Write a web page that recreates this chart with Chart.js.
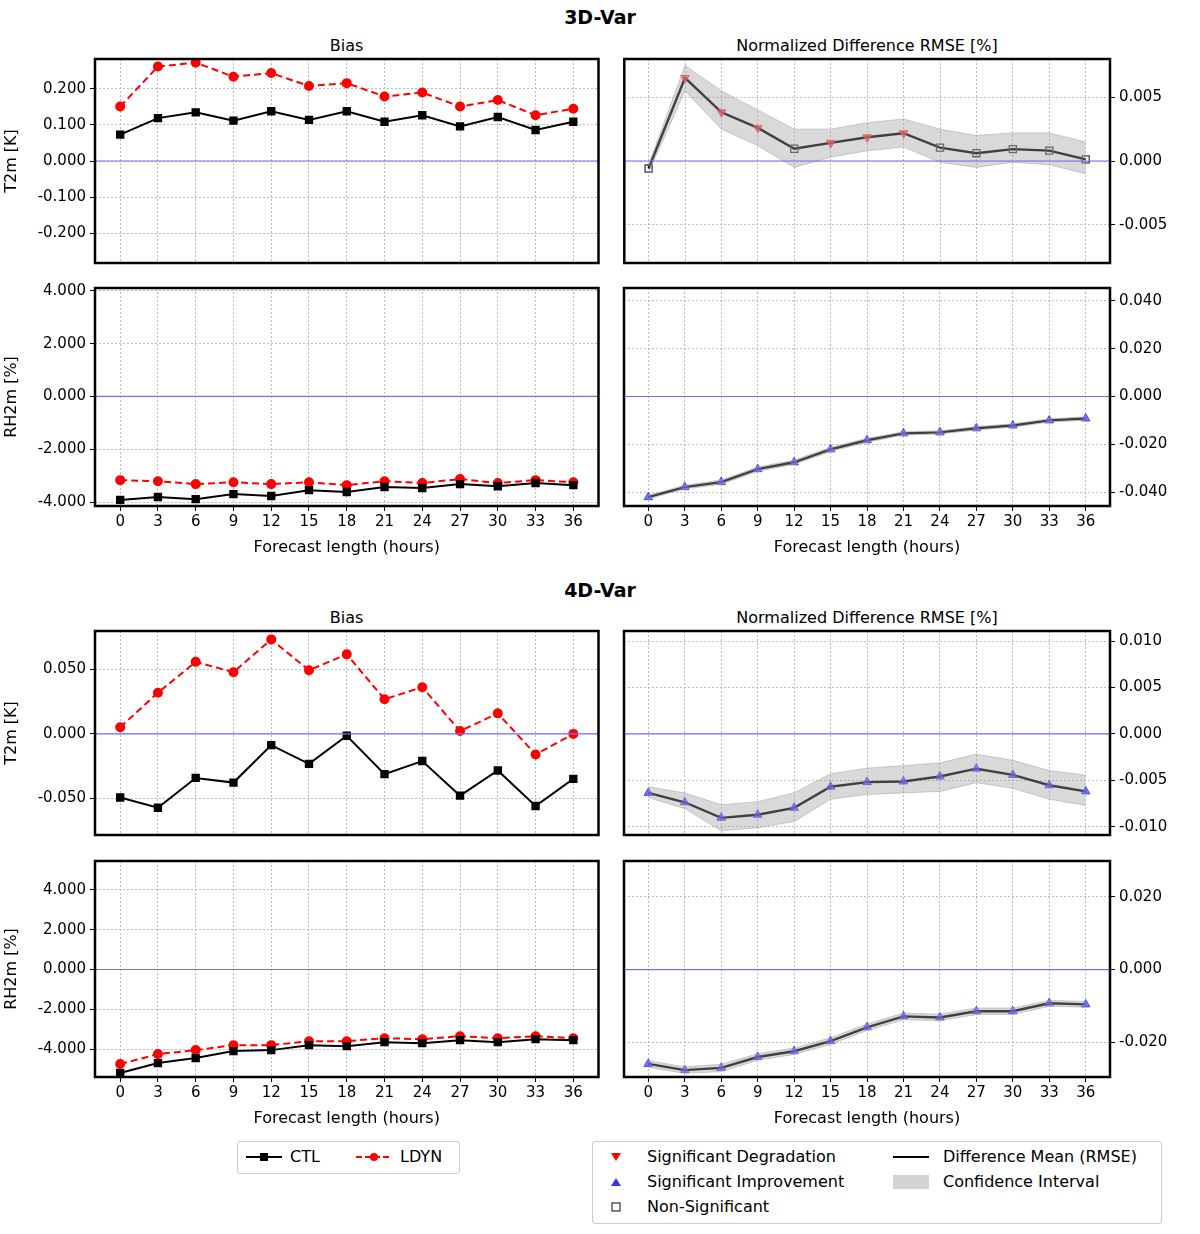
<!DOCTYPE html>
<html>
<head>
<meta charset="UTF-8">
<title>3D-Var / 4D-Var verification</title>
<script src="https://cdn.jsdelivr.net/npm/chart.js"></script>
<style>
  body { margin: 0; background: #fff; font-family: "DejaVu Sans", sans-serif; }
  #page { position: relative; width: 1200px; height: 1234px; }
  .c { position: absolute; }
  .t { position: absolute; font-size: 16px; color: #000; text-align: center; }
  .big { font-weight: bold; font-size: 19px; }
  .legend { position: absolute; border: 1px solid #ccc; border-radius: 3px; background: #fff; font-size: 16px; }
  .li { position: absolute; white-space: nowrap; }
</style>
</head>
<body>
<div id="page">
  <div class="t big" style="left:0;width:1200px;top:6px">3D-Var</div>
  <div class="t" style="left:95px;width:503px;top:36px">Bias</div>
  <div class="t" style="left:624px;width:486px;top:36px">Normalized Difference RMSE [%]</div>
  <div class="t big" style="left:0;width:1200px;top:579px">4D-Var</div>
  <div class="t" style="left:95px;width:503px;top:608px">Bias</div>
  <div class="t" style="left:624px;width:486px;top:608px">Normalized Difference RMSE [%]</div>

  <div class="c" style="left:0;top:46px;width:605px;height:230px"><canvas id="p1"></canvas></div>
  <div class="c" style="left:618px;top:46px;width:582px;height:230px"><canvas id="p2"></canvas></div>
  <div class="c" style="left:0;top:275px;width:605px;height:282px"><canvas id="p3"></canvas></div>
  <div class="c" style="left:618px;top:275px;width:582px;height:282px"><canvas id="p4"></canvas></div>
  <div class="c" style="left:0;top:618px;width:605px;height:230px"><canvas id="p5"></canvas></div>
  <div class="c" style="left:618px;top:618px;width:582px;height:230px"><canvas id="p6"></canvas></div>
  <div class="c" style="left:0;top:848px;width:605px;height:280px"><canvas id="p7"></canvas></div>
  <div class="c" style="left:618px;top:848px;width:582px;height:280px"><canvas id="p8"></canvas></div>

  <div class="legend" style="left:237px;top:1141px;width:221px;height:31px">
    <svg class="li" style="left:8px;top:8px" width="36" height="14"><line x1="0" y1="7" x2="36" y2="7" stroke="#000" stroke-width="2"/><rect x="14" y="3" width="8" height="8" fill="#000"/></svg>
    <span class="li" style="left:52px;top:5px">CTL</span>
    <svg class="li" style="left:118px;top:8px" width="36" height="14"><line x1="0" y1="7" x2="36" y2="7" stroke="red" stroke-width="2" stroke-dasharray="6,3"/><circle cx="18" cy="7" r="4" fill="red"/></svg>
    <span class="li" style="left:162px;top:5px">LDYN</span>
  </div>
  <div class="legend" style="left:592px;top:1141px;width:568px;height:81px">
    <svg class="li" style="left:16px;top:8px" width="14" height="14"><polygon points="2,3 12,3 7,11" fill="red"/></svg>
    <span class="li" style="left:54px;top:5px">Significant Degradation</span>
    <svg class="li" style="left:16px;top:33px" width="14" height="14"><polygon points="2,11 12,11 7,3" fill="#3333ff"/></svg>
    <span class="li" style="left:54px;top:30px">Significant Improvement</span>
    <svg class="li" style="left:16px;top:58px" width="14" height="14"><rect x="3" y="3" width="8" height="8" fill="none" stroke="#333" stroke-width="1.2"/></svg>
    <span class="li" style="left:54px;top:55px">Non-Significant</span>
    <svg class="li" style="left:300px;top:8px" width="36" height="14"><line x1="0" y1="7" x2="36" y2="7" stroke="#000" stroke-width="2"/></svg>
    <span class="li" style="left:350px;top:5px">Difference Mean (RMSE)</span>
    <svg class="li" style="left:300px;top:31px" width="36" height="18"><rect x="0" y="2" width="36" height="14" fill="#d3d3d3"/></svg>
    <span class="li" style="left:350px;top:30px">Confidence Interval</span>
  </div>
</div>
<script>
const hours = [0, 3, 6, 9, 12, 15, 18, 21, 24, 27, 30, 33, 36];

// 3D-Var
const t2mCtl3d  = [0.073, 0.119, 0.135, 0.112, 0.138, 0.114, 0.138, 0.109, 0.127, 0.096, 0.122, 0.086, 0.109];
const t2mLdyn3d = [0.151, 0.262, 0.273, 0.234, 0.244, 0.208, 0.216, 0.179, 0.190, 0.151, 0.169, 0.127, 0.145];
const t2mRmse3d = [-0.00059, 0.00652, 0.00382, 0.00260, 0.00096, 0.00142, 0.00186, 0.00218, 0.00105, 0.00061, 0.00093, 0.00081, 0.00013];
const t2mUp3d   = [-0.0003, 0.0075, 0.0055, 0.0040, 0.0025, 0.0025, 0.0030, 0.0033, 0.0025, 0.0020, 0.0022, 0.0022, 0.0015];
const t2mLo3d   = [-0.0009, 0.0055, 0.0025, 0.0012, -0.0005, 0.0003, 0.0008, 0.0011, -0.0001, -0.0005, -0.0001, -0.0003, -0.0010];
const t2mSig3d  = ['n', 'd', 'd', 'd', 'n', 'd', 'd', 'd', 'n', 'n', 'n', 'n', 'n'];
const rhCtl3d   = [-3.92, -3.81, -3.89, -3.70, -3.77, -3.55, -3.62, -3.43, -3.47, -3.32, -3.40, -3.28, -3.36];
const rhLdyn3d  = [-3.17, -3.21, -3.32, -3.25, -3.32, -3.25, -3.36, -3.21, -3.28, -3.13, -3.28, -3.17, -3.25];
const rhRmse3d  = [-0.0421, -0.0379, -0.0358, -0.0304, -0.0275, -0.0221, -0.0183, -0.0154, -0.0150, -0.0133, -0.0121, -0.0100, -0.0092];
const rhUp3d    = [-0.0414, -0.0371, -0.0349, -0.0295, -0.0266, -0.0212, -0.0175, -0.0147, -0.0143, -0.0126, -0.0114, -0.0093, -0.0085];
const rhLo3d    = [-0.0428, -0.0387, -0.0367, -0.0313, -0.0284, -0.0230, -0.0191, -0.0161, -0.0157, -0.0140, -0.0128, -0.0107, -0.0099];
const rhSig3d   = ['i', 'i', 'i', 'i', 'i', 'i', 'i', 'i', 'i', 'i', 'i', 'i', 'i'];

// 4D-Var
const t2mCtl4d  = [-0.0493, -0.0572, -0.0341, -0.0377, -0.0087, -0.0232, -0.0014, -0.0312, -0.0210, -0.0478, -0.0283, -0.0558, -0.0348];
const t2mLdyn4d = [0.0051, 0.0319, 0.0558, 0.0478, 0.0732, 0.0493, 0.0616, 0.0268, 0.0362, 0.0022, 0.0159, -0.0159, 0.0];
const t2mRmse4d = [-0.00636, -0.00737, -0.00905, -0.00871, -0.00797, -0.0057, -0.0052, -0.00513, -0.00459, -0.00375, -0.00442, -0.00553, -0.0062];
const t2mUp4d   = [-0.0057, -0.00636, -0.00764, -0.00731, -0.00636, -0.00429, -0.00369, -0.00342, -0.00312, -0.00218, -0.00285, -0.00395, -0.00445];
const t2mLo4d   = [-0.00686, -0.00804, -0.01045, -0.01012, -0.00945, -0.00704, -0.00653, -0.00636, -0.0062, -0.00526, -0.00586, -0.00704, -0.00771];
const t2mSig4d  = ['i', 'i', 'i', 'i', 'i', 'i', 'i', 'i', 'i', 'i', 'i', 'i', 'i'];
const rhCtl4d   = [-5.20, -4.70, -4.45, -4.10, -4.05, -3.80, -3.85, -3.65, -3.70, -3.55, -3.65, -3.50, -3.55];
const rhLdyn4d  = [-4.75, -4.25, -4.05, -3.80, -3.80, -3.60, -3.60, -3.45, -3.50, -3.35, -3.45, -3.35, -3.45];
const rhRmse4d  = [-0.0260, -0.0277, -0.0271, -0.0241, -0.0225, -0.0197, -0.0159, -0.0129, -0.0132, -0.0115, -0.0115, -0.0093, -0.0096];
const rhUp4d    = [-0.0251, -0.0268, -0.0261, -0.0232, -0.0216, -0.0188, -0.0150, -0.0120, -0.0123, -0.0106, -0.0106, -0.0085, -0.0088];
const rhLo4d    = [-0.0269, -0.0286, -0.0281, -0.0250, -0.0234, -0.0206, -0.0168, -0.0138, -0.0141, -0.0124, -0.0124, -0.0101, -0.0104];
const rhSig4d   = ['i', 'i', 'i', 'i', 'i', 'i', 'i', 'i', 'i', 'i', 'i', 'i', 'i'];

// tick labels / ranges
const ticksT3d = [-0.2, -0.1, 0, 0.1, 0.2];
const ticksRmseT3d = [-0.005, 0, 0.005];
const ticksRh = [-4, -2, 0, 2, 4];
const ticksRmseRh3d = [-0.04, -0.02, 0, 0.02, 0.04];
const ticksT4d = [-0.05, 0, 0.05];
const ticksRmseT4d = [-0.01, -0.005, 0, 0.005, 0.01];
const ticksRmseRh4d = [-0.02, 0, 0.02];

const FONT = { family: 'DejaVu Sans', size: 15 };
Chart.defaults.color = '#000';

const frame = {
  id: 'frame',
  afterDatasetsDraw(chart) {
    const { ctx, chartArea: a, scales } = chart;
    const y0 = scales.y.getPixelForValue(0);
    ctx.save();
    ctx.strokeStyle = '#7070ff';
    ctx.lineWidth = 1.2;
    ctx.beginPath(); ctx.moveTo(a.left, y0); ctx.lineTo(a.right, y0); ctx.stroke();
    ctx.restore();
  },
  afterDraw(chart) {
    const { ctx, chartArea: a } = chart;
    ctx.save();
    ctx.strokeStyle = '#000';
    ctx.lineWidth = 2.5;
    ctx.strokeRect(a.left, a.top, a.right - a.left, a.bottom - a.top);
    ctx.restore();
  }
};

function pts(vals) { return vals.map((v, i) => ({ x: hours[i], y: v })); }

function axes(yMin, yMax, yTicks, right, title, showX) {
  return {
    x: {
      type: 'linear', min: -2, max: 38,
      afterBuildTicks: s => { s.ticks = hours.map(v => ({ value: v })); },
      afterFit: s => { s.height = showX ? 51 : 0; },
      grid: { color: '#bbb', tickColor: '#000', tickLength: 5, drawTicks: showX },
      border: { dash: [2, 2], display: false },
      ticks: { display: showX, font: FONT, padding: 2 },
      title: { display: showX, text: 'Forecast length (hours)', font: { family: 'DejaVu Sans', size: 16 }, padding: 0 }
    },
    y: {
      position: right ? 'right' : 'left',
      min: yMin, max: yMax,
      afterBuildTicks: s => { s.ticks = yTicks.map(v => ({ value: v })); },
      afterFit: s => { s.width = right ? 90 : 95; },
      grid: { color: '#bbb', tickColor: '#000', tickLength: 5 },
      border: { dash: [2, 2], display: false },
      ticks: { font: FONT, callback: v => v.toFixed(3), padding: 4 },
      title: { display: !!title, text: title, font: { family: 'DejaVu Sans', size: 16 }, padding: 2 }
    }
  };
}

function baseOpts(sc) {
  return {
    responsive: true, maintainAspectRatio: false, animation: false,
    layout: { padding: 0 },
    plugins: { legend: { display: false }, tooltip: { enabled: false } },
    scales: sc
  };
}

function biasPanel(id, ctl, ldyn, yMin, yMax, yTicks, title, showX) {
  new Chart(document.getElementById(id), {
    type: 'line',
    data: { datasets: [
      { data: pts(ctl), borderColor: '#000', backgroundColor: '#000', borderWidth: 2, pointStyle: 'rect', pointRadius: 4.5 },
      { data: pts(ldyn), borderColor: 'red', backgroundColor: 'red', borderWidth: 2, borderDash: [7, 4], pointStyle: 'circle', pointRadius: 4 }
    ] },
    options: baseOpts(axes(yMin, yMax, yTicks, false, title, showX)),
    plugins: [frame]
  });
}

function rmsePanel(id, mean, up, lo, sig, yMin, yMax, yTicks, showX) {
  new Chart(document.getElementById(id), {
    type: 'line',
    data: { datasets: [
      { data: pts(up), borderColor: 'rgba(160,160,160,0.5)', borderWidth: 1, pointRadius: 0, fill: '+1', backgroundColor: 'rgba(160,160,160,0.4)' },
      { data: pts(lo), borderColor: 'rgba(160,160,160,0.5)', borderWidth: 1, pointRadius: 0, fill: false },
      { data: pts(mean), borderColor: '#000', borderWidth: 2.4,
        pointStyle: sig.map(s => s === 'n' ? 'rect' : 'triangle'),
        pointRotation: sig.map(s => s === 'd' ? 180 : 0),
        pointRadius: 5,
        pointBorderWidth: sig.map(s => s === 'n' ? 1.3 : 1),
        pointBorderColor: sig.map(s => s === 'n' ? '#444' : s === 'd' ? 'rgba(255,40,40,0.8)' : 'rgba(50,50,255,0.8)'),
        pointBackgroundColor: sig.map(s => s === 'n' ? 'rgba(0,0,0,0)' : s === 'd' ? 'rgba(255,60,60,0.75)' : 'rgba(70,70,255,0.75)') }
    ] },
    options: baseOpts(axes(yMin, yMax, yTicks, true, '', showX)),
    plugins: [frame]
  });
}

biasPanel('p1', t2mCtl3d, t2mLdyn3d, -0.283, 0.283, ticksT3d, 'T2m [K]', false);
rmsePanel('p2', t2mRmse3d, t2mUp3d, t2mLo3d, t2mSig3d, -0.008, 0.008, ticksRmseT3d, false);
biasPanel('p3', rhCtl3d, rhLdyn3d, -4.15, 4.11, ticksRh, 'RH2m [%]', true);
rmsePanel('p4', rhRmse3d, rhUp3d, rhLo3d, rhSig3d, -0.0458, 0.0454, ticksRmseRh3d, true);
biasPanel('p5', t2mCtl4d, t2mLdyn4d, -0.0783, 0.0797, ticksT4d, 'T2m [K]', false);
rmsePanel('p6', t2mRmse4d, t2mUp4d, t2mLo4d, t2mSig4d, -0.0109, 0.0111, ticksRmseT4d, false);
biasPanel('p7', rhCtl4d, rhLdyn4d, -5.4, 5.45, ticksRh, 'RH2m [%]', true);
rmsePanel('p8', rhRmse4d, rhUp4d, rhLo4d, rhSig4d, -0.0296, 0.0299, ticksRmseRh4d, true);
</script>
</body>
</html>
